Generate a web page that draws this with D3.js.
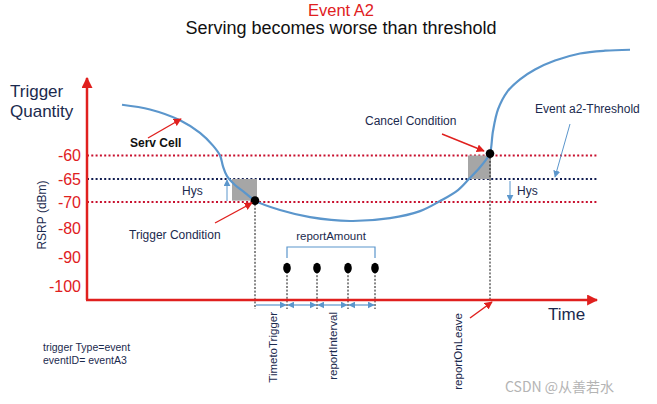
<!DOCTYPE html>
<html>
<head>
<meta charset="utf-8">
<title>Event A2</title>
<script src="https://cdnjs.cloudflare.com/ajax/libs/d3/7.8.5/d3.min.js"></script>
<style>
  body { margin: 0; background: #fff; }
  text { font-family: "Liberation Sans", Arial, sans-serif; }
</style>
</head>
<body>
<script>
var width = 657, height = 404;

// eje RSRP (dBm), escala no lineal como en el dibujo original
var rsrpTicks = [-60, -65, -70, -80, -90, -100];
var thresholdLevel = -65, hysteresis = 5;

// curva de la celda servidora: tiempo (unidades arbitrarias) y RSRP
var servTime = [35, 63, 93, 113, 126, 133, 136, 140, 148, 158, 168, 193, 223, 263, 303, 333, 353, 371, 382, 393, 400, 403, 406, 411, 420, 433, 448, 468, 493, 518, 543];
var servRsrp = [-49.2, -50.2, -52.5, -55.2, -57.9, -60, -62.3, -64.4, -66.3, -68, -69.7, -73.1, -75.8, -77.3, -76.2, -73.5, -69.8, -67.4, -65, -62.5, -60.6, -59.6, -54.8, -50.2, -46.5, -43.8, -41.7, -39.8, -38.3, -37.7, -37.5];

var triggerTime = 168, triggerRsrp = -69.7;
var leaveTime = 403, leaveRsrp = -59.6;
var reportTimes = [200, 230, 261, 288];

var red = "#e0201e", blue = "#5b96cc", navy = "#1b2a4e", grey = "#a6a6a6";

var x = d3.scaleLinear().domain([0, 510]).range([87, 597]);
// escala por tramos (las etiquetas no estan equiespaciadas)
var y = d3.scaleLinear()
    .domain([-100, -90, -80, -70, -65, -60])
    .range([286, 257, 228, 202, 179, 155.5]);
var axisY = 300, topY = 78;

var svg = d3.select("body").append("svg")
    .attr("width", width)
    .attr("height", height);

var defs = svg.append("defs");
function marker(id, color, size) {
  defs.append("marker")
      .attr("id", id)
      .attr("viewBox", "0 0 10 10")
      .attr("refX", 9).attr("refY", 5)
      .attr("markerUnits", "userSpaceOnUse")
      .attr("markerWidth", size).attr("markerHeight", size)
      .attr("orient", "auto-start-reverse")
    .append("path")
      .attr("d", "M0,0 L10,5 L0,10 z")
      .attr("fill", color);
}
marker("axisHead", red, 11);
marker("redHead", red, 8);
marker("blueHead", blue, 7);

// titulos
svg.append("text").attr("x", 341).attr("y", 16).attr("text-anchor", "middle")
    .attr("font-size", 16.5).attr("fill", red).text("Event A2");
svg.append("text").attr("x", 341).attr("y", 34).attr("text-anchor", "middle")
    .attr("font-size", 18).attr("fill", "#111").text("Serving becomes worse than threshold");

svg.append("text").attr("x", 10).attr("y", 97).attr("font-size", 17).attr("fill", navy).text("Trigger");
svg.append("text").attr("x", 10).attr("y", 117).attr("font-size", 17).attr("fill", navy).text("Quantity");

svg.append("text")
    .attr("transform", "translate(46,215) rotate(-90)")
    .attr("text-anchor", "middle")
    .attr("font-size", 12).attr("fill", navy)
    .text("RSRP (dBm)");

// etiquetas del eje
var yAxis = d3.axisLeft(y).tickValues(rsrpTicks).tickSize(0).tickPadding(6)
    .tickFormat(function(d) { return String(d); });
var gy = svg.append("g").attr("transform", "translate(" + x(0) + ",0)").call(yAxis);
gy.select(".domain").remove();
gy.selectAll("text").attr("font-size", 16).attr("fill", red)
    .attr("font-family", "Liberation Sans, Arial, sans-serif");

// lineas punteadas de umbral
var levels = [thresholdLevel + hysteresis, thresholdLevel, thresholdLevel - hysteresis];
svg.selectAll("line.level")
    .data(levels)
    .enter().append("line")
    .attr("class", "level")
    .attr("x1", x(0)).attr("x2", x(511))
    .attr("y1", function(d) { return y(d); })
    .attr("y2", function(d) { return y(d); })
    .attr("stroke", function(d) { return d == thresholdLevel ? "#101c50" : "#c8102e"; })
    .attr("stroke-width", 2)
    .attr("stroke-dasharray", "2,2.3");

// zonas grises (TTT)
svg.append("rect")
    .attr("x", x(145)).attr("y", y(thresholdLevel))
    .attr("width", x(triggerTime + 2) - x(145))
    .attr("height", y(triggerRsrp) - y(thresholdLevel))
    .attr("fill", grey);
svg.append("rect")
    .attr("x", x(381)).attr("y", y(thresholdLevel + hysteresis))
    .attr("width", x(leaveTime + 1) - x(381))
    .attr("height", y(thresholdLevel) - y(thresholdLevel + hysteresis))
    .attr("fill", grey);

// lineas verticales punteadas
var vdots = [[triggerTime, triggerRsrp, axisY + 9], [leaveTime, leaveRsrp, axisY]];
reportTimes.forEach(function(t) { vdots.push([t, null, axisY + 9]); });
svg.selectAll("line.vdot")
    .data(vdots)
    .enter().append("line")
    .attr("class", "vdot")
    .attr("x1", function(d) { return x(d[0]); })
    .attr("x2", function(d) { return x(d[0]); })
    .attr("y1", function(d) { return d[1] === null ? 268 : y(d[1]); })
    .attr("y2", function(d) { return d[2]; })
    .attr("stroke", "#111")
    .attr("stroke-width", 1)
    .attr("stroke-dasharray", "2,1.6");

// curva de la celda servidora
var serv = servTime.map(function(t, i) { return [t, servRsrp[i]]; });
var line = d3.line()
    .x(function(d) { return x(d[0]); })
    .y(function(d) { return y(d[1]); })
    .curve(d3.curveCatmullRom.alpha(0.5));
svg.append("path")
    .datum(serv)
    .attr("d", line)
    .attr("fill", "none")
    .attr("stroke", blue)
    .attr("stroke-width", 2.2);

// ejes
svg.append("line")
    .attr("x1", x(0)).attr("y1", axisY).attr("x2", x(0)).attr("y2", topY)
    .attr("stroke", red).attr("stroke-width", 2.5).attr("marker-end", "url(#axisHead)");
svg.append("line")
    .attr("x1", x(0) - 1).attr("y1", axisY).attr("x2", x(510)).attr("y2", axisY)
    .attr("stroke", red).attr("stroke-width", 2.5).attr("marker-end", "url(#axisHead)");

// puntos trigger / cancel
svg.selectAll("circle.cond")
    .data([[triggerTime, triggerRsrp], [leaveTime, leaveRsrp]])
    .enter().append("circle")
    .attr("class", "cond")
    .attr("cx", function(d) { return x(d[0]); })
    .attr("cy", function(d) { return y(d[1]); })
    .attr("r", 4.3)
    .attr("fill", "#000");

// reportes
svg.selectAll("ellipse.report")
    .data(reportTimes)
    .enter().append("ellipse")
    .attr("class", "report")
    .attr("cx", function(d) { return x(d); })
    .attr("cy", 268)
    .attr("rx", 3.8).attr("ry", 5.2)
    .attr("fill", "#000");

// llave reportAmount
var r0 = x(reportTimes[0]), r1 = x(reportTimes[reportTimes.length - 1]);
svg.append("path")
    .attr("d", "M" + r0 + ",258 L" + r0 + ",247 L" + r1 + ",247 L" + r1 + ",258")
    .attr("fill", "none").attr("stroke", blue).attr("stroke-width", 1.2);
svg.append("text").attr("x", (r0 + r1) / 2).attr("y", 240).attr("text-anchor", "middle")
    .attr("font-size", 11.5).attr("fill", navy).text("reportAmount");

// flechas de intervalos
var ticksT = [triggerTime].concat(reportTimes);
for (var i = 0; i < ticksT.length - 1; i++) {
  svg.append("line")
      .attr("x1", x(ticksT[i]) + 1).attr("x2", x(ticksT[i + 1]) - 1)
      .attr("y1", 305).attr("y2", 305)
      .attr("stroke", blue).attr("stroke-width", 1.2)
      .attr("marker-start", i == 0 ? null : "url(#blueHead)")
      .attr("marker-end", "url(#blueHead)");
}

// etiquetas verticales
var vlabels = [
  {t: 190, y: 312, txt: "TimetoTrigger"},
  {t: 250, y: 312, txt: "reportInterval"},
  {t: 375, y: 313, txt: "reportOnLeave"}
];
svg.selectAll("text.vlab")
    .data(vlabels)
    .enter().append("text")
    .attr("class", "vlab")
    .attr("transform", function(d) { return "translate(" + x(d.t) + "," + d.y + ") rotate(-90)"; })
    .attr("text-anchor", "end")
    .attr("font-size", 11.5)
    .attr("fill", navy)
    .text(function(d) { return d.txt; });

// textos y flechas de anotacion
function label(tx, ty, txt, opts) {
  var t = svg.append("text").attr("x", tx).attr("y", ty)
      .attr("font-size", 12).attr("fill", navy).text(txt);
  if (opts && opts.bold) t.attr("font-weight", "bold").attr("fill", "#111");
  return t;
}
function arrow(x1, y1, x2, y2, head, color, w) {
  svg.append("line")
      .attr("x1", x1).attr("y1", y1).attr("x2", x2).attr("y2", y2)
      .attr("stroke", color).attr("stroke-width", w)
      .attr("marker-end", "url(#" + head + ")");
}

label(130, 147, "Serv Cell", {bold: true});
arrow(148, 138, 181, 119, "redHead", red, 1.4);

label(129, 239, "Trigger Condition");
arrow(215, 223, 252, 203, "redHead", red, 1.4);

label(365, 125, "Cancel Condition");
arrow(442, 134, 484, 151, "redHead", red, 1.4);

label(535, 113, "Event a2-Threshold");
arrow(570, 124, 555, 177, "blueHead", blue, 1);

label(182, 195, "Hys");
arrow(x(140), y(thresholdLevel - hysteresis) - 1, x(140), y(thresholdLevel) + 1, "blueHead", blue, 1);

label(517, 195, "Hys");
arrow(x(423), y(thresholdLevel) + 2, x(423), y(thresholdLevel - hysteresis) - 1, "blueHead", blue, 1);

arrow(470, 318, 492, 302, "redHead", red, 1.4);

svg.append("text").attr("x", 548).attr("y", 320).attr("font-size", 17)
    .attr("fill", navy).text("Time");

svg.append("text").attr("x", 43).attr("y", 351).attr("font-size", 10.5).attr("fill", navy).text("trigger Type=event");
svg.append("text").attr("x", 43).attr("y", 364).attr("font-size", 10.5).attr("fill", navy).text("eventID= eventA3");

svg.append("text").attr("x", 505).attr("y", 392).attr("font-size", 14)
    .attr("fill", "#b4b4b4")
    .style("font-family", "'Noto Sans CJK SC', sans-serif")
    .text("CSDN @从善若水");
</script>
</body>
</html>
